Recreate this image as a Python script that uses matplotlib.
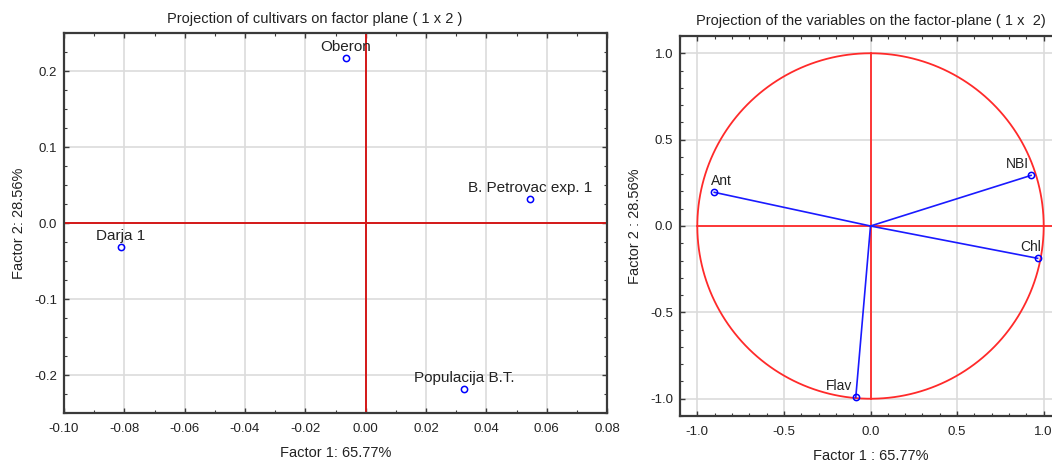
import numpy as np
import matplotlib
matplotlib.use("Agg")
import matplotlib.pyplot as plt
from matplotlib.ticker import MultipleLocator, FuncFormatter

plt.rcParams["font.family"] = ["Liberation Sans", "DejaVu Sans"]
plt.rcParams["axes.unicode_minus"] = False

# cultivars on factor plane
cultivars = ["Oberon", "B. Petrovac exp. 1", "Darja 1", "Populacija B.T."]
cult_f1 = [-0.0066, 0.0546, -0.0812, 0.0327]
cult_f2 = [0.2167, 0.0312, -0.0310, -0.2190]

# variables on factor plane
variables = ["Ant", "NBI", "Chl", "Flav"]
var_f1 = [-0.902, 0.927, 0.965, -0.085]
var_f2 = [0.195, 0.293, -0.187, -0.992]

# label offsets (points) for the variable plot
var_label_dx = {"Ant": 5, "NBI": -10, "Chl": -5, "Flav": -12}

SPINE = "#3a3a3a"
GRID = "#dcdcdc"
TXT = "#222222"


def fmt(decimals):
    # round first so that -0.00 comes out as 0.00
    return FuncFormatter(lambda v, pos: f"{round(v, decimals) + 0.0:.{decimals}f}")


def style_axes(ax, xmaj, xmin, ymaj, ymin, xdec, ydec):
    ax.xaxis.set_major_locator(MultipleLocator(xmaj))
    ax.xaxis.set_minor_locator(MultipleLocator(xmin))
    ax.yaxis.set_major_locator(MultipleLocator(ymaj))
    ax.yaxis.set_minor_locator(MultipleLocator(ymin))
    ax.xaxis.set_major_formatter(fmt(xdec))
    ax.yaxis.set_major_formatter(fmt(ydec))
    ax.tick_params(which="both", direction="in", top=True, right=True,
                   colors=SPINE, labelcolor=TXT, labelsize=9.5)
    ax.tick_params(which="major", length=3.5, width=1.0)
    ax.tick_params(which="minor", length=2.0, width=0.8)
    ax.tick_params(axis="x", pad=7)
    ax.tick_params(axis="y", pad=5)
    for s in ax.spines.values():
        s.set_color(SPINE)
        s.set_linewidth(1.6)
    ax.grid(True, which="major", color=GRID, linewidth=1.2, zorder=0)
    ax.set_axisbelow(True)


fig = plt.figure(figsize=(10.52, 4.66), dpi=100)

# ---- left: cultivars
ax1 = fig.add_axes([64 / 1052, 53 / 466, 543 / 1052, 380 / 466])
style_axes(ax1, 0.02, 0.01, 0.1, 0.025, 2, 1)
ax1.set_xlim(-0.10, 0.08)
ax1.set_ylim(-0.25, 0.25)
ax1.axhline(0, color="#d41818", linewidth=1.4, zorder=1)
ax1.axvline(0, color="#d41818", linewidth=1.4, zorder=1)
ax1.plot(cult_f1, cult_f2, "o", ms=4.5, mfc="none", mec="#0000ff", mew=1.1, zorder=3)
for name, x, y in zip(cultivars, cult_f1, cult_f2):
    ax1.annotate(name, (x, y), xytext=(0, 5), textcoords="offset points",
                 ha="center", va="baseline", fontsize=11, color=TXT)
ax1.set_title("Projection of cultivars on factor plane ( 1 x 2 )",
              fontsize=10.5, color=TXT, pad=7.5, x=0.462)
ax1.set_xlabel("Factor 1: 65.77%", fontsize=10.5, color=TXT, labelpad=8)
ax1.set_ylabel("Factor 2: 28.56%", fontsize=10.5, color=TXT, labelpad=6)

# ---- right: variables
ax2 = fig.add_axes([680 / 1052, 50 / 466, 381 / 1052, 380 / 466])
style_axes(ax2, 0.5, 0.1, 0.5, 0.1, 1, 1)
ax2.set_xlim(-1.1, 1.1)
ax2.set_ylim(-1.1, 1.1)
t = np.linspace(0, 2 * np.pi, 400)
ax2.plot(np.cos(t), np.sin(t), color="#ff2a2a", linewidth=1.3, zorder=1)
ax2.plot([-1, 1.1], [0, 0], color="#ff2a2a", linewidth=1.3, zorder=1)
ax2.plot([0, 0], [-1, 1], color="#ff2a2a", linewidth=1.3, zorder=1)
for name, x, y in zip(variables, var_f1, var_f2):
    ax2.plot([0, x], [0, y], color="#1a1aff", linewidth=1.2, zorder=2)
ax2.plot(var_f1, var_f2, "o", ms=4.5, mfc="none", mec="#0000ff", mew=1.1, zorder=3)
for name, x, y in zip(variables, var_f1, var_f2):
    ax2.annotate(name, (x, y), xytext=(var_label_dx[name], 5.5), textcoords="offset points",
                 ha="center", va="baseline", fontsize=10, color=TXT)
ax2.set_title("Projection of the variables on the factor-plane ( 1 x  2)",
              fontsize=10.5, color=TXT, pad=8)
ax2.set_xlabel("Factor 1 : 65.77%", fontsize=10.5, color=TXT, labelpad=8)
ax2.set_ylabel("Factor 2 : 28.56%", fontsize=10.5, color=TXT, labelpad=6)

fig.savefig("out.png", dpi=100)
plt.close(fig)
